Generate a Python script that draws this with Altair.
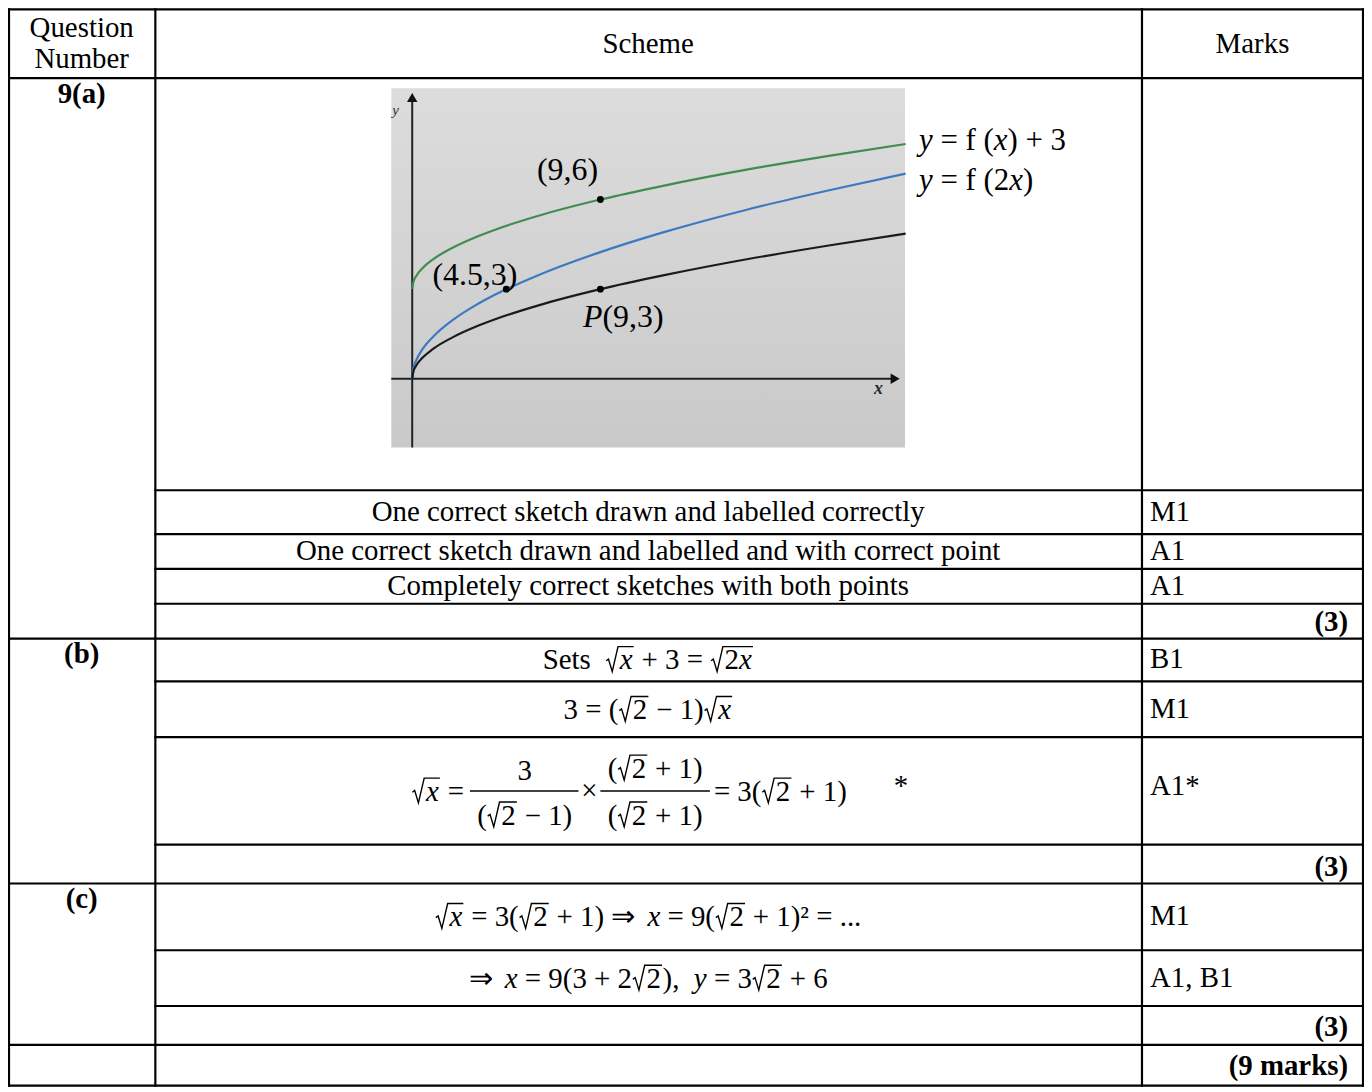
import altair as alt
import pandas as pd

# ---------------- page / layout ----------------
W, H = 1362, 1082          # plot area (page origin of plot = 8,8)
OX, OY = 8, 8
FONT = "Liberation Serif"
FS = 29          # table text
MFS = 29         # formula text

# table geometry (page pixels)
T_LEFT, T_RIGHT, T_TOP, T_BOTTOM = 9, 1369, 7, 1088
COL1, COL2 = 156, 1147
full_row_lines = [T_TOP, 76, 639, 885, 1047, T_BOTTOM]
inner_row_lines = [490, 534, 569, 604, 682, 738, 846, 952, 1008]
vertical_lines = [T_LEFT, COL1, COL2, T_RIGHT]

# embedded sketch geometry (page pixels of origin, px per unit)
G_X0, G_UX = 414, 21.0
G_Y0, G_UY = 378, 30.0

# ---------------- content ----------------
header_text = ["Question", "Number", "Scheme", "Marks"]
header_pos_x = [82, 82, 651, 1258]
header_pos_y = [26, 57, 42, 42]

part_labels = ["9(a)", "(b)", "(c)"]
part_pos_y = [92, 655, 901]

scheme_text = [
    "One correct sketch drawn and labelled correctly",
    "One correct sketch drawn and labelled and with correct point",
    "Completely correct sketches with both points",
]
scheme_pos_y = [512, 551, 586]

marks = ["M1", "A1", "A1", "B1", "M1", "A1*", "M1", "A1, B1"]
marks_pos_y = [512, 551, 586, 660, 710, 787, 918, 980]
subtotals = ["(3)", "(3)", "(3)", "(9 marks)"]
subtotal_pos_y = [622, 868, 1029, 1068]

# formulas as token lists: ("n", upright text) ("i", italic text) ("R", radicand tokens)
SQ2 = ("R", [("n", "2")])
SQX = ("R", [("i", "x")])
formula_b1 = [("n", "Sets  "), SQX, ("n", " + 3 = "), ("R", [("n", "2"), ("i", "x")])]
formula_b2 = [("n", "3 = ("), SQ2, ("n", " \u2212 1)"), SQX]
formula_b3_lhs = [SQX, ("n", " =")]
formula_b3_num1 = [("n", "3")]
formula_b3_den1 = [("n", "("), SQ2, ("n", " \u2212 1)")]
formula_b3_times = [("n", "\u00d7")]
formula_b3_num2 = [("n", "("), SQ2, ("n", " + 1)")]
formula_b3_den2 = [("n", "("), SQ2, ("n", " + 1)")]
formula_b3_rhs = [("n", "= 3("), SQ2, ("n", " + 1)")]
formula_b3_star = [("n", "*")]
formula_c1 = [SQX, ("n", " = 3("), SQ2, ("n", " + 1) \u21d2 "), ("i", "x"),
              ("n", " = 9("), SQ2, ("n", " + 1)\u00b2 = ...")]
formula_c2 = [("n", "\u21d2 "), ("i", "x"), ("n", " = 9(3 + 2"), SQ2, ("n", "),  "),
              ("i", "y"), ("n", " = 3"), SQ2, ("n", " + 6")]

label_f3 = [("i", "y"), ("n", " = f ("), ("i", "x"), ("n", ") + 3")]
label_f2x = [("i", "y"), ("n", " = f (2"), ("i", "x"), ("n", ")")]
label_p96 = [("n", "(9,6)")]
label_p453 = [("n", "(4.5,3)")]
label_p93 = [("i", "P"), ("n", "(9,3)")]

# ---------------- sketch data ----------------
curve_x = [0, 0.05, 0.2, 0.5, 1, 2, 3, 4, 6, 9, 12, 16, 20, 23.6]
f_x = [0, 0.22, 0.45, 0.71, 1.0, 1.41, 1.73, 2.0, 2.45, 3.0, 3.46, 4.0, 4.47, 4.86]
f_2x = [0, 0.32, 0.63, 1.0, 1.41, 2.0, 2.45, 2.83, 3.46, 4.24, 4.9, 5.66, 6.32, 6.87]
f_x_plus3 = [3.0, 3.22, 3.45, 3.71, 4.0, 4.41, 4.73, 5.0, 5.45, 6.0, 6.46, 7.0, 7.47, 7.86]
series_names = ["f(x)+3", "f(2x)", "f(x)"]
series_colors = ["#3f8d52", "#3d79c0", "#1b1b1b"]

point_x = [9, 4.5, 9]
point_y = [6, 3, 3]

# ---------------- simple text metrics (Times / Liberation Serif, per 1000 em) ----------------
W_NORMAL = {" ": 250, "=": 564, "+": 564, "\u2212": 564, "\u00d7": 564, "(": 333, ")": 333,
            ",": 250, ".": 250, "\u21d2": 1000, "\u00b2": 300, "*": 500,
            "f": 333, "S": 556, "e": 444, "t": 278, "s": 389}
W_ITALIC = {"x": 444, "y": 444, "P": 611}
RAD_W = 0.50     # advance of a drawn radical sign, in em


def text_w(s, italic, fs):
    table = W_ITALIC if italic else W_NORMAL
    return sum(table.get(c, 500) for c in s) / 1000.0 * fs


def tokens_w(tokens, fs):
    w = 0.0
    for kind, val in tokens:
        if kind == "R":
            w += RAD_W * fs + tokens_w(val, fs) + 0.06 * fs
        else:
            w += text_w(val, kind == "i", fs)
    return w


formula_out = {"n": [], "i": [], "rad": []}


def place(tokens, x, base, fs):
    for kind, val in tokens:
        if kind == "R":
            x0 = x
            x = place(val, x + RAD_W * fs, base, fs)
            rid = len({r["rid"] for r in formula_out["rad"]})
            shape = [(x0 + 0.03 * fs, base - 0.30 * fs),
                     (x0 + 0.11 * fs, base - 0.36 * fs),
                     (x0 + 0.24 * fs, base + 0.07 * fs),
                     (x0 + 0.44 * fs, base - 0.79 * fs),
                     (x + 0.04 * fs, base - 0.79 * fs)]
            for k, (qx, qy) in enumerate(shape):
                formula_out["rad"].append({"rid": rid, "k": k, "x": qx, "y": qy})
            x += 0.06 * fs
        else:
            italic = kind == "i"
            lead = len(val) - len(val.lstrip(" "))
            txt = val.strip(" ")
            if txt:
                formula_out["i" if italic else "n"].append(
                    {"t": txt, "x": x + text_w(val[:lead], italic, fs), "y": base, "fs": fs})
            x += text_w(val, italic, fs)
    return x


def put(tokens, base, fs=MFS, center=None, left=None, right=None):
    w = tokens_w(tokens, fs)
    if center is not None:
        x = center - w / 2
    elif right is not None:
        x = right - w
    else:
        x = left
    place(tokens, x, base, fs)


put(formula_b1, 670, center=651)
put(formula_b2, 720, center=651)
put(formula_b3_lhs, 802, right=466)
put(formula_b3_num1, 781, center=527)
put(formula_b3_den1, 826, center=527)
put(formula_b3_times, 801, center=592)
put(formula_b3_num2, 779, center=658)
put(formula_b3_den2, 826, center=658)
put(formula_b3_rhs, 802, left=717)
put(formula_b3_star, 796, center=905)
put(formula_c1, 928, center=651)
put(formula_c2, 990, center=651)
put(label_f3, 148, fs=31, left=923)
put(label_f2x, 188, fs=31, left=923)
put(label_p96, 178, fs=32, center=570)
put(label_p453, 284, fs=32, center=477)
put(label_p93, 326, fs=32, center=626)

frac_bar_x1 = [472, 603]
frac_bar_x2 = [581, 713]
frac_bar_y = [792, 792]

# ---------------- scales ----------------
TX = alt.Scale(domain=[OX, OX + W], nice=False, zero=False)
TY = alt.Scale(domain=[OY, OY + H], reverse=True, nice=False, zero=False)
GX = alt.Scale(domain=[(OX - G_X0) / G_UX, (OX + W - G_X0) / G_UX], nice=False, zero=False)
GY = alt.Scale(domain=[(G_Y0 - (OY + H)) / G_UY, (G_Y0 - OY) / G_UY], nice=False, zero=False)


def px(f):
    return alt.X(f + ":Q", scale=TX, axis=None)


def py(f):
    return alt.Y(f + ":Q", scale=TY, axis=None)


def gx(f):
    return alt.X(f + ":Q", scale=GX, axis=None)


def gy(f):
    return alt.Y(f + ":Q", scale=GY, axis=None)


def text_layer(df, align, weight="normal", size=FS, style="normal", xs=px, ys=py, color="black"):
    return alt.Chart(df).mark_text(
        align=align, baseline="middle", font=FONT, fontSize=size,
        fontWeight=weight, fontStyle=style, color=color
    ).encode(x=xs("x"), y=ys("y"), text="t:N")


def formula_layer(rows, style):
    return alt.Chart(pd.DataFrame(rows)).mark_text(
        align="left", baseline="alphabetic", font=FONT, fontStyle=style, color="black"
    ).encode(x=px("x"), y=py("y"), text="t:N", size=alt.Size("fs:Q", scale=None))


layers = []

# ---- sketch background (gradient grey picture) ----
bg = pd.DataFrame({"u1": [-1.0], "u2": [23.57], "v1": [-2.3], "v2": [9.73]})
layers.append(
    alt.Chart(bg).mark_rect(
        fill=alt.Gradient(gradient="linear", x1=0, x2=0, y1=0, y2=1,
                          stops=[alt.GradientStop(color="#dcdcdc", offset=0),
                                 alt.GradientStop(color="#d3d3d3", offset=0.5),
                                 alt.GradientStop(color="#c9c9c9", offset=1)])
    ).encode(x=gx("u1"), x2=alt.X2("u2"), y=gy("v1"), y2=alt.Y2("v2"))
)

# ---- sketch axes ----
ax = pd.DataFrame({"u1": [0, -1.0], "u2": [0, 23.0], "v1": [-2.3, 0], "v2": [9.3, 0]})
layers.append(
    alt.Chart(ax).mark_rule(color="#222222", strokeWidth=2)
    .encode(x=gx("u1"), x2=alt.X2("u2"), y=gy("v1"), y2=alt.Y2("v2"))
)
layers.append(
    alt.Chart(pd.DataFrame({"u": [0], "v": [9.42]})).mark_point(
        shape="triangle-up", filled=True, color="#111111", size=110, opacity=1
    ).encode(x=gx("u"), y=gy("v"))
)
layers.append(
    alt.Chart(pd.DataFrame({"u": [23.1], "v": [0]})).mark_point(
        shape="triangle-right", filled=True, color="#111111", size=110, opacity=1
    ).encode(x=gx("u"), y=gy("v"))
)
layers.append(text_layer(pd.DataFrame({"t": ["y"], "x": [-0.8], "y": [9.0]}), "center",
                         size=15, style="italic", xs=gx, ys=gy, color="#333333"))
layers.append(text_layer(pd.DataFrame({"t": ["x"], "x": [22.3], "y": [-0.35]}), "center",
                         size=18, style="italic", weight="bold", xs=gx, ys=gy, color="#2a2a2a"))

# ---- curves ----
rows = []
for name, vals in zip(series_names, [f_x_plus3, f_2x, f_x]):
    for i, (u, v) in enumerate(zip(curve_x, vals)):
        rows.append({"s": name, "i": i, "u": u, "v": v})
curves = pd.DataFrame(rows)
layers.append(
    alt.Chart(curves).mark_line(strokeWidth=2.2, interpolate="monotone").encode(
        x=gx("u"), y=gy("v"),
        color=alt.Color("s:N", scale=alt.Scale(domain=series_names, range=series_colors), legend=None),
        order=alt.Order("i:Q"),
    )
)

# ---- points ----
layers.append(
    alt.Chart(pd.DataFrame({"u": point_x, "v": point_y})).mark_circle(
        size=48, color="#000000", opacity=1
    ).encode(x=gx("u"), y=gy("v"))
)

# ---- table grid ----
grid = []
for yv in full_row_lines:
    grid.append({"x1": T_LEFT, "x2": T_RIGHT, "y1": yv, "y2": yv})
for yv in inner_row_lines:
    grid.append({"x1": COL1, "x2": T_RIGHT, "y1": yv, "y2": yv})
for xv in vertical_lines:
    grid.append({"x1": xv, "x2": xv, "y1": T_TOP, "y2": T_BOTTOM})
layers.append(
    alt.Chart(pd.DataFrame(grid)).mark_rule(color="black", strokeWidth=2.2, strokeCap="square")
    .encode(x=px("x1"), x2=alt.X2("x2"), y=py("y1"), y2=alt.Y2("y2"))
)

# ---- table texts ----
layers.append(text_layer(pd.DataFrame({"t": header_text, "x": header_pos_x, "y": header_pos_y}), "center"))
layers.append(text_layer(pd.DataFrame({"t": part_labels, "x": [82] * 3, "y": part_pos_y}), "center", weight="bold"))
layers.append(text_layer(pd.DataFrame({"t": scheme_text, "x": [651] * len(scheme_text), "y": scheme_pos_y}), "center"))
layers.append(text_layer(pd.DataFrame({"t": marks, "x": [1155] * len(marks), "y": marks_pos_y}), "left"))
layers.append(text_layer(pd.DataFrame({"t": subtotals, "x": [1354] * 4, "y": subtotal_pos_y}), "right", weight="bold"))

# ---- formulas ----
layers.append(formula_layer(formula_out["n"], "normal"))
layers.append(formula_layer(formula_out["i"], "italic"))
layers.append(
    alt.Chart(pd.DataFrame(formula_out["rad"])).mark_line(color="black", strokeWidth=1.4)
    .encode(x=px("x"), y=py("y"), detail="rid:N", order=alt.Order("k:Q"))
)
layers.append(
    alt.Chart(pd.DataFrame({"x1": frac_bar_x1, "x2": frac_bar_x2, "y": frac_bar_y}))
    .mark_rule(color="black", strokeWidth=1.6)
    .encode(x=px("x1"), x2=alt.X2("x2"), y=py("y"))
)

chart = alt.layer(*layers).resolve_scale(
    x="independent", y="independent", color="independent", size="independent"
).properties(
    width=W, height=H, padding=0, autosize="none", background="white"
).configure_view(stroke=None)

chart.save("out.html", embed_options={"renderer": "svg", "actions": False})
